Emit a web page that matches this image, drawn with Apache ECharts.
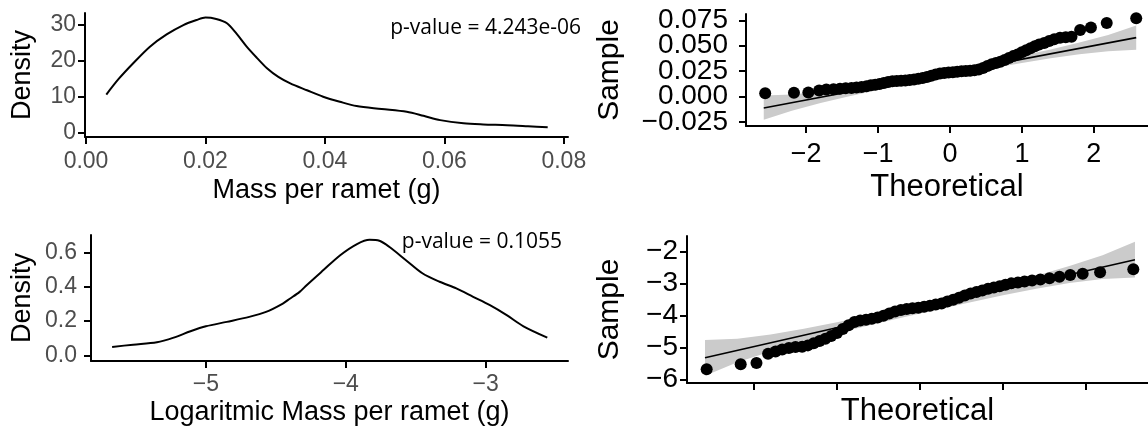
<!DOCTYPE html>
<html>
<head>
<meta charset="utf-8">
<script src="https://cdn.jsdelivr.net/npm/echarts@6/dist/echarts.min.js"></script>
<style>
    html, body {margin: 0; padding: 0; background: #fff;}
    #main {width: 1148px; height: 429px;}
</style>
</head>
<body>
<div id="main"></div>
<script>
// density of mass per ramet
var densMassX = [0.0034, 0.0055, 0.0079, 0.0107, 0.0135, 0.0163, 0.0185, 0.0200, 0.0218, 0.0236, 0.0252, 0.0269, 0.0286, 0.0303,
    0.0322, 0.0342, 0.0370, 0.0397, 0.0425, 0.0453, 0.0495, 0.0537, 0.0565, 0.0593, 0.0632, 0.0665, 0.0705, 0.0740, 0.0773];
var densMassY = [10.6, 15.0, 19.3, 23.9, 27.3, 29.9, 31.3, 32.0, 31.6, 30.4, 27.5, 23.9, 20.8, 17.9,
    15.5, 13.7, 11.8, 10.0, 8.6, 7.4, 6.6, 5.8, 4.7, 3.5, 2.6, 2.3, 2.1, 1.8, 1.5];

// density of log mass
var densLogX = [-5.67, -5.52, -5.35, -5.23, -5.11, -5.00, -4.85, -4.69, -4.57, -4.45, -4.40, -4.33, -4.28, -4.16,
    -4.04, -3.92, -3.83, -3.76, -3.69, -3.57, -3.45, -3.33, -3.21, -3.09, -2.97, -2.85, -2.73, -2.56];
var densLogY = [0.049, 0.062, 0.076, 0.103, 0.140, 0.169, 0.195, 0.224, 0.253, 0.302, 0.330, 0.370, 0.409, 0.497,
    0.584, 0.649, 0.674, 0.668, 0.633, 0.555, 0.477, 0.429, 0.390, 0.341, 0.292, 0.234, 0.169, 0.103];

// qq points, mass
var qqMassX = [-2.57, -2.17, -1.97, -1.82, -1.72, -1.62, -1.53, -1.45, -1.37, -1.30, -1.23, -1.16, -1.10, -1.04, -0.98, -0.92,
    -0.86, -0.80, -0.74, -0.68, -0.62, -0.56, -0.50, -0.44, -0.38, -0.32, -0.26, -0.20, -0.14, -0.08, -0.02, 0.04, 0.10, 0.16,
    0.22, 0.28, 0.34, 0.40, 0.46, 0.52, 0.58, 0.64, 0.70, 0.76, 0.82, 0.88, 0.94, 1.00, 1.06, 1.12, 1.18, 1.24, 1.31, 1.38,
    1.45, 1.53, 1.61, 1.69, 1.81, 1.96, 2.18, 2.59];
var qqMassY = [0.0032, 0.0037, 0.0039, 0.0060, 0.0068, 0.0072, 0.0077, 0.0081, 0.0085, 0.0088, 0.0094, 0.0102, 0.0110, 0.0117,
    0.0124, 0.0133, 0.0142, 0.0150, 0.0153, 0.0155, 0.0157, 0.0162, 0.0168, 0.0174, 0.0182, 0.0192, 0.0205, 0.0218, 0.0226,
    0.0232, 0.0236, 0.0240, 0.0244, 0.0248, 0.0251, 0.0254, 0.0258, 0.0266, 0.0280, 0.0300, 0.0318, 0.0330, 0.0342, 0.0360,
    0.0380, 0.0398, 0.0415, 0.0435, 0.0456, 0.0476, 0.0495, 0.0512, 0.0528, 0.0548, 0.0565, 0.0580, 0.0585, 0.0590, 0.0655,
    0.0680, 0.0725, 0.0770];

// qq points, log mass
var qqLogX = [-2.57, -2.16, -1.97, -1.83, -1.74, -1.66, -1.58, -1.50, -1.42, -1.35, -1.28, -1.21, -1.14, -1.07, -1.00, -0.93,
    -0.86, -0.79, -0.72, -0.65, -0.58, -0.51, -0.44, -0.37, -0.30, -0.23, -0.16, -0.09, -0.02, 0.05, 0.12, 0.19, 0.26, 0.33,
    0.40, 0.47, 0.54, 0.61, 0.68, 0.75, 0.82, 0.89, 0.96, 1.03, 1.10, 1.18, 1.26, 1.35, 1.45, 1.56, 1.68, 1.81, 1.96, 2.17, 2.57];
var qqLogY = [-5.68, -5.52, -5.48, -5.19, -5.12, -5.06, -5.01, -4.98, -4.97, -4.93, -4.86, -4.79, -4.72, -4.64, -4.54, -4.42,
    -4.30, -4.20, -4.15, -4.13, -4.10, -4.06, -4.00, -3.93, -3.87, -3.82, -3.79, -3.77, -3.75, -3.72, -3.69, -3.65, -3.62,
    -3.56, -3.50, -3.44, -3.37, -3.31, -3.26, -3.21, -3.16, -3.12, -3.08, -3.03, -2.99, -2.96, -2.93, -2.90, -2.87, -2.83,
    -2.78, -2.73, -2.69, -2.64, -2.55];

// reference lines and confidence bands
var fitX = [-2.59, 2.59];
var fitMassY = [-0.0114, 0.0580];
var fitLogY = [-5.32, -2.25];
var bandX = [-2.59, -2.2, -1.8, -1.4, -1.0, -0.5, 0, 0.5, 1.0, 1.4, 1.8, 2.2, 2.59];
var bandMassLo = [-0.0230, -0.0141, -0.0065, 0.0002, 0.0063, 0.0134, 0.0203, 0.0268, 0.0331, 0.0376, 0.0417, 0.0447, 0.0460];
var bandMassHi = [0.0010, 0.0019, 0.0049, 0.0090, 0.0135, 0.0198, 0.0263, 0.0332, 0.0403, 0.0464, 0.0531, 0.0607, 0.0700];
var bandLogLo = [-5.88, -5.46, -5.12, -4.82, -4.55, -4.23, -3.93, -3.64, -3.36, -3.16, -2.98, -2.85, -2.81];
var bandLogHi = [-4.76, -4.72, -4.59, -4.41, -4.21, -3.94, -3.65, -3.34, -3.02, -2.75, -2.45, -2.11, -1.69];

// ticks
var massTicks = [0, 0.02, 0.04, 0.06, 0.08];
var densMassTicks = [0, 10, 20, 30];
var logTicks = [-5, -4, -3];
var densLogTicks = [0, 0.2, 0.4, 0.6];
var theoTicks = [-2, -1, 0, 1, 2];
var sampleMassTicks = [-0.025, 0, 0.025, 0.05, 0.075];
var sampleLogTicks = [-6, -5, -4, -3, -2];

var pValueMass = 'p-value = 4.243e-06';
var pValueLog = 'p-value = 0.1055';

function pairs(xs, ys) {
    return xs.map(function (x, i) { return [x, ys[i]]; });
}

function minusFmt(digits) {
    return function (v) {
        var s = digits == null ? String(v) : v.toFixed(digits);
        return s.replace('-', '\u2212');
    };
}

function axis(grid, min, max, ticks, o) {
    return {
        type: 'value', gridIndex: grid, min: min, max: max, position: o.position,
        axisLine: {show: o.line !== false, onZero: false, lineStyle: {color: '#000', width: 2}},
        axisTick: {show: o.line !== false, length: 7, customValues: ticks, lineStyle: {color: '#000', width: 2}},
        axisLabel: {
            show: o.labels !== false, customValues: o.labelValues || ticks, interval: 0, margin: o.margin,
            color: o.color, fontSize: o.fontSize, fontFamily: 'Liberation Sans, Arial, sans-serif',
            formatter: o.fmt, hideOverlap: false, showMinLabel: true, showMaxLabel: true
        },
        splitLine: {show: false},
        name: o.name, nameLocation: 'middle', nameGap: o.nameGap,
        nameTextStyle: {color: '#000', fontSize: o.nameSize, fontFamily: 'Liberation Sans, Arial, sans-serif'}
    };
}

function band(idx, lo, hi) {
    return {
        type: 'custom', xAxisIndex: idx, yAxisIndex: idx, silent: true, z: 1,
        data: bandX.map(function (x, i) { return [x, lo[i], hi[i]]; }),
        encode: {x: 0, y: [1, 2]},
        renderItem: function (params, api) {
            if (params.dataIndex !== 0) return;
            var pts = [];
            for (var i = 0; i < bandX.length; i++) pts.push(api.coord([bandX[i], hi[i]]));
            for (var j = bandX.length - 1; j >= 0; j--) pts.push(api.coord([bandX[j], lo[j]]));
            return {type: 'polygon', shape: {points: pts}, style: {fill: '#cbcbcb'}};
        }
    };
}

var gray = '#4d4d4d';

// the sample labels of the top qq plot sit closer than echarts allows on one axis,
// so every second label goes on a twin axis without line or ticks
var sampleMassLabelsA = sampleMassTicks.filter(function (v, i) { return i % 2 === 0; });
var sampleMassLabelsB = sampleMassTicks.filter(function (v, i) { return i % 2 === 1; });

var option = {
    animation: false,
    backgroundColor: '#fff',
    grid: [
        {left: 85, top: 13, width: 483, height: 124, outerBoundsMode: 'none'},
        {left: 746, top: 14, width: 402, height: 112, outerBoundsMode: 'none'},
        {left: 91, top: 235, width: 477, height: 126, outerBoundsMode: 'none'},
        {left: 687, top: 236, width: 461, height: 147, outerBoundsMode: 'none'}
    ],
    xAxis: [
        axis(0, -0.00017, 0.0807, massTicks, {margin: 13, color: gray, fontSize: 23, fmt: minusFmt(2),
            name: 'Mass per ramet (g)', nameGap: 40, nameSize: 27}),
        axis(1, -2.837, 2.754, theoTicks, {margin: 15, color: '#000', fontSize: 27, fmt: minusFmt(),
            name: 'Theoretical', nameGap: 46, nameSize: 31}),
        axis(2, -5.821, -2.412, logTicks, {margin: 12, color: gray, fontSize: 23, fmt: minusFmt(),
            name: 'Logaritmic Mass per ramet (g)', nameGap: 38, nameSize: 27}),
        axis(3, -2.807, 2.747, theoTicks, {labels: false, color: '#000', fontSize: 27,
            name: 'Theoretical', nameGap: 13, nameSize: 31})
    ],
    yAxis: [
        axis(0, -1.19, 33.25, densMassTicks, {margin: 9, color: gray, fontSize: 23, fmt: minusFmt(),
            name: 'Density', nameGap: 49, nameSize: 27}),
        axis(1, -0.02905, 0.0813, sampleMassTicks, {labelValues: sampleMassLabelsA, margin: 18, color: '#000',
            fontSize: 28, fmt: minusFmt(3), name: 'Sample', nameGap: 121, nameSize: 30, position: 'left'}),
        axis(2, -0.0333, 0.7018, densLogTicks, {margin: 14, color: gray, fontSize: 23, fmt: minusFmt(1),
            name: 'Density', nameGap: 55, nameSize: 27}),
        axis(3, -6.107, -1.508, sampleLogTicks, {margin: 9, color: '#000', fontSize: 28,
            fmt: minusFmt(), name: 'Sample', nameGap: 62, nameSize: 30}),
        axis(1, -0.02905, 0.0813, sampleMassTicks, {labelValues: sampleMassLabelsB, line: false, margin: 18,
            color: '#000', fontSize: 28, fmt: minusFmt(3), name: '', position: 'left'})
    ],
    series: [
        {type: 'line', xAxisIndex: 0, yAxisIndex: 0, data: pairs(densMassX, densMassY), smooth: 0.3,
            showSymbol: false, lineStyle: {color: '#000', width: 2}},
        band(1, bandMassLo, bandMassHi),
        {type: 'line', xAxisIndex: 1, yAxisIndex: 1, data: pairs(fitX, fitMassY), showSymbol: false, z: 2,
            lineStyle: {color: '#000', width: 1.6}},
        {type: 'scatter', xAxisIndex: 1, yAxisIndex: 1, data: pairs(qqMassX, qqMassY), symbolSize: 12, z: 3,
            itemStyle: {color: '#000', opacity: 1}},
        {type: 'line', xAxisIndex: 2, yAxisIndex: 2, data: pairs(densLogX, densLogY), smooth: 0.3,
            showSymbol: false, lineStyle: {color: '#000', width: 2}},
        band(3, bandLogLo, bandLogHi),
        {type: 'line', xAxisIndex: 3, yAxisIndex: 3, data: pairs(fitX, fitLogY), showSymbol: false, z: 2,
            lineStyle: {color: '#000', width: 1.6}},
        {type: 'scatter', xAxisIndex: 3, yAxisIndex: 3, data: pairs(qqLogX, qqLogY), symbolSize: 12, z: 3,
            itemStyle: {color: '#000', opacity: 1}}
    ],
    graphic: [
        {type: 'text', x: 581, y: 28, style: {text: pValueMass, textAlign: 'right', textVerticalAlign: 'middle',
            font: '21px "Open Sans", sans-serif', fill: '#000'}},
        {type: 'text', x: 562, y: 242, style: {text: pValueLog, textAlign: 'right', textVerticalAlign: 'middle',
            font: '21px "Open Sans", sans-serif', fill: '#000'}}
    ]
};

var chart = echarts.init(document.getElementById('main'), null, {renderer: 'canvas'});
chart.setOption(option);
</script>
</body>
</html>
